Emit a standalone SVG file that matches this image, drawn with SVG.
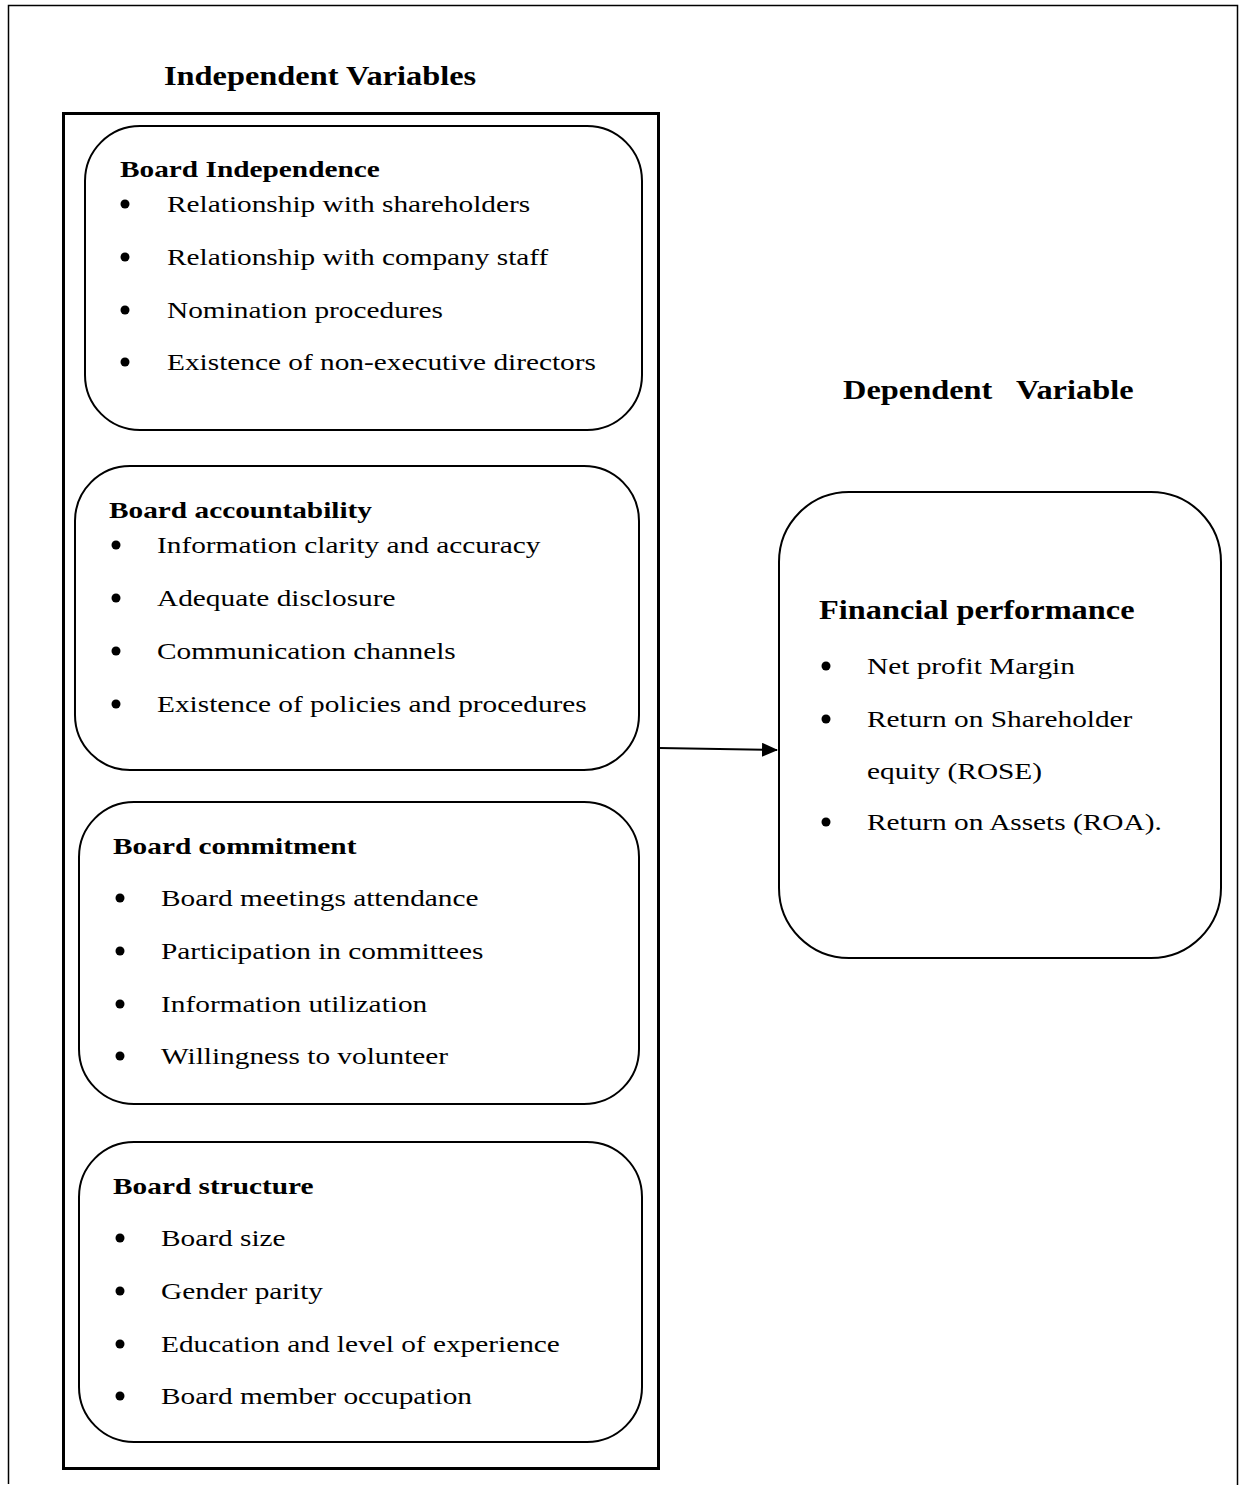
<svg xmlns="http://www.w3.org/2000/svg" width="1245" height="1485" viewBox="0 0 1245 1485">
<style>
.t{font-family:"Liberation Serif","Times New Roman",serif;font-size:24px;fill:#000}
.h{font-family:"Liberation Serif","Times New Roman",serif;font-size:24px;font-weight:bold;fill:#000}
.big{font-family:"Liberation Serif","Times New Roman",serif;font-size:26.5px;font-weight:bold;fill:#000}
.box{fill:#fff;stroke:#000;stroke-width:2}
.frame{fill:none;stroke:#000;stroke-width:1.5}
</style>
<defs>
<marker id="arr" markerWidth="16" markerHeight="14" refX="15" refY="7" orient="auto" markerUnits="userSpaceOnUse" viewBox="0 0 16 14">
<path d="M0,0 L16,7 L0,14 z" fill="#000"/>
</marker>
<circle id="b" r="4.5" fill="#000"/>
</defs>
<rect width="1245" height="1485" fill="#fff"/>
<path class="frame" d="M8.5,1484 V5.5 H1237.5 V1485"/>
<rect x="63.5" y="113.5" width="595" height="1355" fill="none" stroke="#000" stroke-width="3"/>
<g id="titles" transform="scale(1.222,1)">
<text class="big" x="134.2" y="85">Independent Variables</text>
<text class="big" x="689.9" y="399" xml:space="preserve">Dependent   Variable</text>
</g>
<g id="board-independence">
<rect class="box" x="85" y="126" width="557" height="304" rx="55"/>
<use href="#b" x="125" y="204"/><use href="#b" x="125" y="257"/><use href="#b" x="125" y="310"/><use href="#b" x="125" y="362"/>
<g transform="scale(1.222,1)">
<text class="h" x="98.2" y="177">Board Independence</text>
<text class="t" x="136.7" y="212">Relationship with shareholders</text>
<text class="t" x="136.7" y="265">Relationship with company staff</text>
<text class="t" x="136.7" y="318">Nomination procedures</text>
<text class="t" x="136.7" y="370">Existence of non-executive directors</text>
</g>
</g>
<g id="board-accountability">
<rect class="box" x="75" y="466" width="564" height="304" rx="55"/>
<use href="#b" x="116" y="545"/><use href="#b" x="116" y="598"/><use href="#b" x="116" y="651"/><use href="#b" x="116" y="704"/>
<g transform="scale(1.222,1)">
<text class="h" x="89.2" y="518">Board accountability</text>
<text class="t" x="128.5" y="553">Information clarity and accuracy</text>
<text class="t" x="128.5" y="606">Adequate disclosure</text>
<text class="t" x="128.5" y="659">Communication channels</text>
<text class="t" x="128.5" y="712">Existence of policies and procedures</text>
</g>
</g>
<g id="board-commitment">
<rect class="box" x="79" y="802" width="560" height="302" rx="55"/>
<use href="#b" x="120" y="898"/><use href="#b" x="120" y="951"/><use href="#b" x="120" y="1004"/><use href="#b" x="120" y="1056"/>
<g transform="scale(1.222,1)">
<text class="h" x="92.5" y="854">Board commitment</text>
<text class="t" x="131.8" y="906">Board meetings attendance</text>
<text class="t" x="131.8" y="959">Participation in committees</text>
<text class="t" x="131.8" y="1012">Information utilization</text>
<text class="t" x="131.8" y="1064">Willingness to volunteer</text>
</g>
</g>
<g id="board-structure">
<rect class="box" x="79" y="1142" width="563" height="300" rx="55"/>
<use href="#b" x="120" y="1238"/><use href="#b" x="120" y="1291"/><use href="#b" x="120" y="1344"/><use href="#b" x="120" y="1396"/>
<g transform="scale(1.222,1)">
<text class="h" x="92.5" y="1194">Board structure</text>
<text class="t" x="131.8" y="1246">Board size</text>
<text class="t" x="131.8" y="1299">Gender parity</text>
<text class="t" x="131.8" y="1352">Education and level of experience</text>
<text class="t" x="131.8" y="1404">Board member occupation</text>
</g>
</g>
<g id="financial-performance">
<rect class="box" x="779" y="492" width="442" height="466" rx="70"/>
<use href="#b" x="826" y="666"/><use href="#b" x="826" y="719"/><use href="#b" x="826" y="822"/>
<g transform="scale(1.222,1)">
<text class="big" x="670.2" y="619">Financial performance</text>
<text class="t" x="709.5" y="674">Net profit Margin</text>
<text class="t" x="709.5" y="727">Return on Shareholder</text>
<text class="t" x="709.5" y="779">equity (ROSE)</text>
<text class="t" x="709.5" y="830">Return on Assets (ROA).</text>
</g>
</g>
<g id="connectors">
<line x1="659" y1="748" x2="777" y2="750" stroke="#000" stroke-width="2" marker-end="url(#arr)"/>
</g>
</svg>
